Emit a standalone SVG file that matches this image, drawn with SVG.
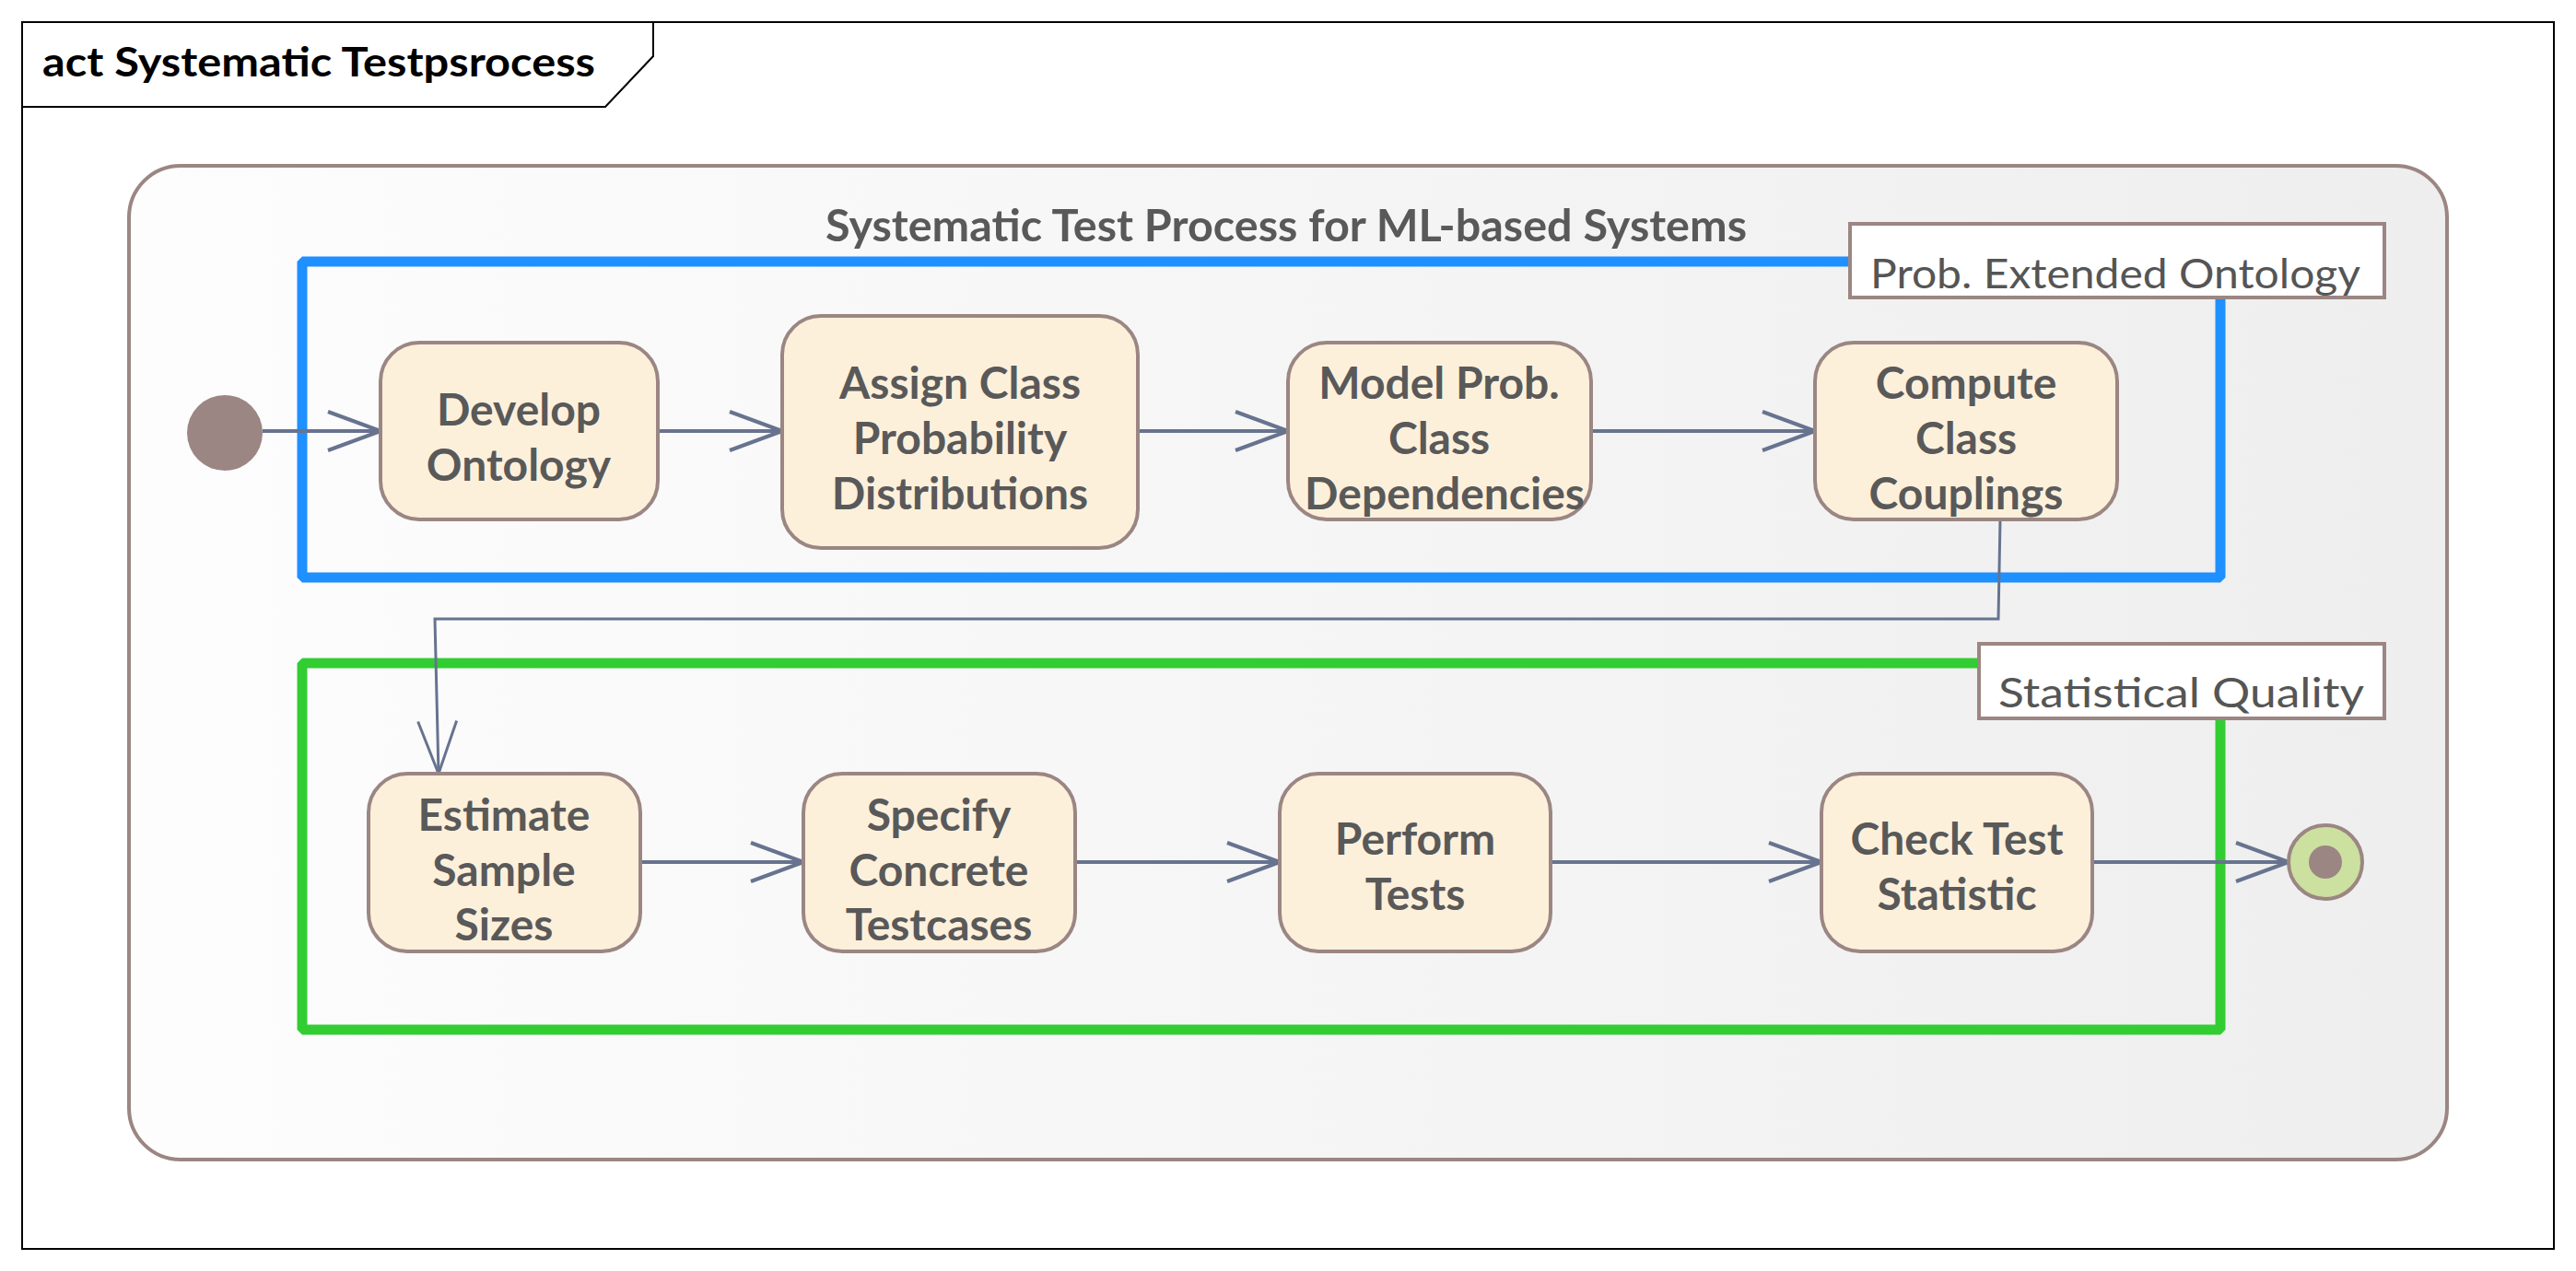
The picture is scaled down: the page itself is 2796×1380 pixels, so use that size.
<svg xmlns="http://www.w3.org/2000/svg" width="2796" height="1380" viewBox="0 0 2796 1380">
<style>
.nt{font-family:Lato,"Liberation Sans",sans-serif;font-weight:700;font-size:48px;fill:#595959;text-anchor:middle}
.node{fill:#FDF0DB;stroke:#9B8683;stroke-width:4}
.lbl{fill:#FFFFFF;stroke:#9B8683;stroke-width:4}
.lt{font-family:Lato,"Liberation Sans",sans-serif;font-size:44px;fill:#555555}
.flow{fill:none;stroke:#67738F;stroke-width:4;marker-end:url(#arr)}
.flow2{fill:none;stroke:#67738F;stroke-width:3;marker-end:url(#arr2)}
</style>
<defs>
<linearGradient id="bg" x1="0" y1="0" x2="1" y2="0">
<stop offset="0" stop-color="#FDFDFD"/>
<stop offset="1" stop-color="#EEEEEE"/>
</linearGradient>
<marker id="arr" viewBox="0 0 60 46" refX="58" refY="23" markerWidth="60" markerHeight="46" orient="auto" markerUnits="userSpaceOnUse">
<path d="M1,2 L58,23 L1,44" fill="none" stroke="#67738F" stroke-width="4"/>
</marker>
<marker id="arr2" viewBox="0 0 60 46" refX="58" refY="23" markerWidth="60" markerHeight="46" orient="auto" markerUnits="userSpaceOnUse">
<path d="M1,2 L58,23 L1,44" fill="none" stroke="#67738F" stroke-width="3"/>
</marker>
</defs>
<rect x="0" y="0" width="2796" height="1380" fill="#FFFFFF"/>
<g id="frame">
<rect x="24" y="24" width="2748" height="1332" fill="none" stroke="#000000" stroke-width="2"/>
<path d="M24,116 H657 L709,61 V24" fill="none" stroke="#000000" stroke-width="2"/>
<text x="46" y="83" font-family="Lato,'Liberation Sans',sans-serif" font-weight="700" font-size="43" fill="#000000" textLength="600" lengthAdjust="spacingAndGlyphs">act Systematic Testpsrocess</text>
</g>
<g id="container">
<rect x="140" y="180" width="2516" height="1079" rx="56" fill="url(#bg)" stroke="#9B8683" stroke-width="4"/>
<text class="nt" x="1396" y="262" fill="#555555" textLength="1000" lengthAdjust="spacingAndGlyphs">Systematic Test Process for ML-based Systems</text>
</g>
<g id="region-ontology">
<rect x="328" y="284" width="2082" height="343" fill="none" stroke="#1E90FF" stroke-width="11" stroke-linejoin="bevel"/>
<rect class="lbl" x="2008" y="243" width="580" height="80"/>
<text class="lt" x="2030" y="313" textLength="532" lengthAdjust="spacingAndGlyphs">Prob. Extended Ontology</text>
</g>
<g id="region-quality">
<rect x="328" y="720" width="2082" height="398" fill="none" stroke="#32CD32" stroke-width="11" stroke-linejoin="bevel"/>
<rect class="lbl" x="2148" y="699" width="440" height="81"/>
<text class="lt" x="2169" y="768" textLength="397" lengthAdjust="spacingAndGlyphs">Statistical Quality</text>
</g>
<g id="connectors">
<path class="flow" d="M285,468 H413"/>
<path class="flow" d="M714,468 H849"/>
<path class="flow" d="M1235,468 H1398"/>
<path class="flow" d="M1727,468 H1970"/>
<path class="flow2" d="M2171,564 L2169,672 H472 L476,840"/>
<path class="flow" d="M695,936 H872"/>
<path class="flow" d="M1167,936 H1389"/>
<path class="flow" d="M1683,936 H1977"/>
<path class="flow" d="M2271,936 H2484"/>
</g>
<g id="initial">
<circle cx="244" cy="470" r="41" fill="#9B8683"/>
</g>
<g id="develop-ontology">
<rect class="node" x="413" y="372" width="301" height="192" rx="42"/>
<text class="nt" x="563" y="462">Develop</text>
<text class="nt" x="563" y="522">Ontology</text>
</g>
<g id="assign-class">
<rect class="node" x="849" y="343" width="386" height="252" rx="42"/>
<text class="nt" x="1042" y="433">Assign Class</text>
<text class="nt" x="1042" y="493">Probability</text>
<text class="nt" x="1042" y="553">Distributions</text>
</g>
<g id="model-prob">
<rect class="node" x="1398" y="372" width="329" height="192" rx="42"/>
<text class="nt" x="1562" y="433">Model Prob.</text>
<text class="nt" x="1562" y="493">Class</text>
<text class="nt" x="1568" y="553">Dependencies</text>
</g>
<g id="compute-couplings">
<rect class="node" x="1970" y="372" width="328" height="192" rx="42"/>
<text class="nt" x="2134" y="433">Compute</text>
<text class="nt" x="2134" y="493">Class</text>
<text class="nt" x="2134" y="553">Couplings</text>
</g>
<g id="estimate-sample">
<rect class="node" x="400" y="840" width="295" height="193" rx="42"/>
<text class="nt" x="547" y="902">Estimate</text>
<text class="nt" x="547" y="962">Sample</text>
<text class="nt" x="547" y="1021">Sizes</text>
</g>
<g id="specify-testcases">
<rect class="node" x="872" y="840" width="295" height="193" rx="42"/>
<text class="nt" x="1019" y="902">Specify</text>
<text class="nt" x="1019" y="962">Concrete</text>
<text class="nt" x="1019" y="1021">Testcases</text>
</g>
<g id="perform-tests">
<rect class="node" x="1389" y="840" width="294" height="193" rx="42"/>
<text class="nt" x="1536" y="928">Perform</text>
<text class="nt" x="1536" y="988">Tests</text>
</g>
<g id="check-statistic">
<rect class="node" x="1977" y="840" width="294" height="193" rx="42"/>
<text class="nt" x="2124" y="928">Check Test</text>
<text class="nt" x="2124" y="988">Statistic</text>
</g>
<g id="final">
<circle cx="2524" cy="936" r="40" fill="#CCE0A0" stroke="#9B8683" stroke-width="4"/>
<circle cx="2524" cy="936" r="18" fill="#9B8683"/>
</g>
</svg>
